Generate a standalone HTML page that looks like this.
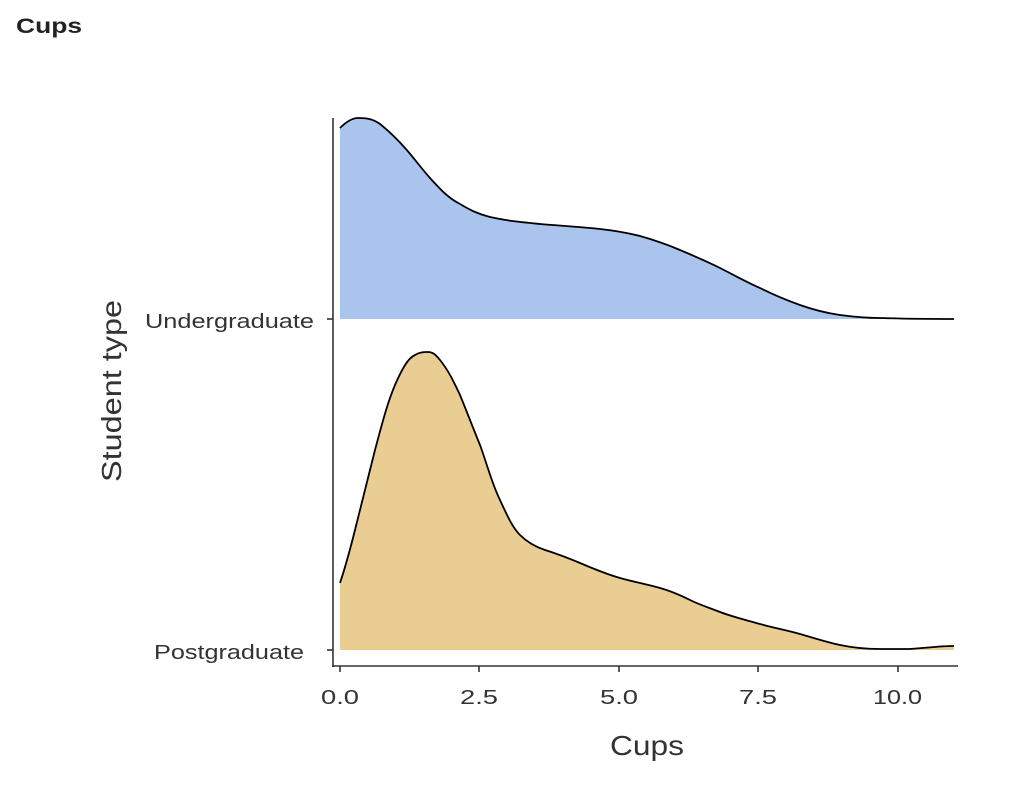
<!DOCTYPE html>
<html><head><meta charset="utf-8"><style>
html,body{margin:0;padding:0;background:#fff;}
svg{display:block;font-family:"Liberation Sans",sans-serif;}
</style></head><body>
<svg width="1018" height="790" viewBox="0 0 1018 790">
<text x="16" y="33" font-size="21" font-weight="bold" fill="#222" textLength="66" lengthAdjust="spacingAndGlyphs">Cups</text>
<path d="M340,128 C346,122 352,118 358,118 C367,118 373,119 380,124 C390,132 397,139 405,148 C414,158 421,168 430,178 C440,189 448,198 460,204 C470,210 478,214 490,217 C508,221 520,222 540,224 C565,226 582,227 600,229 C618,231 628,233 640,236 C654,240 666,244 680,250 C694,256 706,261 720,268 C734,275 746,282 760,288 C774,295 786,300 800,305 C814,310 826,313 840,315 C855,317 866,318 880,318 C910,319 935,319 954,319 L954,319 L340,319 Z" fill="#abc4ed" stroke="none"/>
<path d="M340,128 C346,122 352,118 358,118 C367,118 373,119 380,124 C390,132 397,139 405,148 C414,158 421,168 430,178 C440,189 448,198 460,204 C470,210 478,214 490,217 C508,221 520,222 540,224 C565,226 582,227 600,229 C618,231 628,233 640,236 C654,240 666,244 680,250 C694,256 706,261 720,268 C734,275 746,282 760,288 C774,295 786,300 800,305 C814,310 826,313 840,315 C855,317 866,318 880,318 C910,319 935,319 954,319" fill="none" stroke="#000" stroke-width="1.8"/>
<path d="M340,583 C346,565 350,550 355,530 C362,503 368,477 375,450 C382,424 387,404 395,385 C402,369 408,358 415,355 C420,352 424,352 428,352 C433,352 436,355 440,360 C448,370 453,380 460,395 C467,412 473,428 480,445 C487,464 492,484 500,500 C507,515 512,527 520,535 C528,543 536,547 545,550 C558,554 568,558 580,563 C594,569 606,574 620,578 C634,582 646,584 660,588 C671,591 680,595 690,600 C700,605 710,608 720,612 C733,617 746,620 760,624 C774,628 786,630 800,634 C814,638 826,642 840,645 C854,648 866,649 880,649 C892,649 900,649 910,649 C925,648 940,646 954,646 L954,650 L340,650 Z" fill="#eacd93"/>
<path d="M340,583 C346,565 350,550 355,530 C362,503 368,477 375,450 C382,424 387,404 395,385 C402,369 408,358 415,355 C420,352 424,352 428,352 C433,352 436,355 440,360 C448,370 453,380 460,395 C467,412 473,428 480,445 C487,464 492,484 500,500 C507,515 512,527 520,535 C528,543 536,547 545,550 C558,554 568,558 580,563 C594,569 606,574 620,578 C634,582 646,584 660,588 C671,591 680,595 690,600 C700,605 710,608 720,612 C733,617 746,620 760,624 C774,628 786,630 800,634 C814,638 826,642 840,645 C854,648 866,649 880,649 C892,649 900,649 910,649 C925,648 940,646 954,646" fill="none" stroke="#000" stroke-width="1.8"/>
<g stroke="#333" stroke-width="1.6" fill="none">
<line x1="333" y1="118" x2="333" y2="667"/>
<line x1="332" y1="666" x2="958" y2="666"/>
<line x1="327" y1="319" x2="333" y2="319"/>
<line x1="327" y1="650" x2="333" y2="650"/>
<line x1="340" y1="666" x2="340" y2="672"/>
<line x1="479" y1="666" x2="479" y2="672"/>
<line x1="619" y1="666" x2="619" y2="672"/>
<line x1="758" y1="666" x2="758" y2="672"/>
<line x1="898" y1="666" x2="898" y2="672"/>
</g>
<g font-size="20" fill="#333" lengthAdjust="spacingAndGlyphs">
<text x="321" y="704" textLength="38" lengthAdjust="spacingAndGlyphs">0.0</text>
<text x="460" y="704" textLength="38" lengthAdjust="spacingAndGlyphs">2.5</text>
<text x="600" y="704" textLength="38" lengthAdjust="spacingAndGlyphs">5.0</text>
<text x="739" y="704" textLength="38" lengthAdjust="spacingAndGlyphs">7.5</text>
<text x="873" y="704" textLength="49" lengthAdjust="spacingAndGlyphs">10.0</text>
</g>
<g font-size="20" fill="#333">
<text x="145" y="328" textLength="169" lengthAdjust="spacingAndGlyphs">Undergraduate</text>
<text x="154" y="659" textLength="150" lengthAdjust="spacingAndGlyphs">Postgraduate</text>
</g>
<text x="610" y="755" font-size="28" fill="#333" textLength="74" lengthAdjust="spacingAndGlyphs">Cups</text>
<text transform="translate(121,482) rotate(-90)" font-size="28" fill="#333" textLength="182" lengthAdjust="spacingAndGlyphs">Student type</text>
</svg>
</body></html>
